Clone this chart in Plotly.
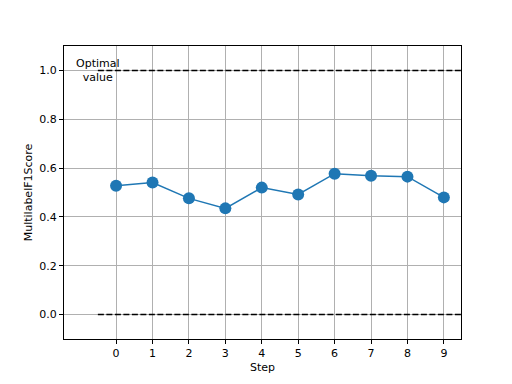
import plotly.graph_objects as go

steps = [0, 1, 2, 3, 4, 5, 6, 7, 8, 9]
scores = [0.528, 0.541, 0.476, 0.435, 0.520, 0.492, 0.577, 0.569, 0.565, 0.480]
optimal_value = 1.0
lower_value = 0.0
line_x = [-0.5, 9.5]
y_ticks = [0.0, 0.2, 0.4, 0.6, 0.8, 1.0]

fig = go.Figure()
fig.add_trace(go.Scatter(x=line_x, y=[optimal_value, optimal_value], mode="lines",
                         line=dict(color="black", width=1.5, dash="6px,2.5px"), showlegend=False))
fig.add_trace(go.Scatter(x=line_x, y=[lower_value, lower_value], mode="lines",
                         line=dict(color="black", width=1.5, dash="6px,2.5px"), showlegend=False))
fig.add_trace(go.Scatter(x=steps, y=scores, mode="lines+markers",
                         line=dict(color="#1f77b4", width=1.5),
                         marker=dict(color="#1f77b4", size=12), showlegend=False))

fig.add_annotation(x=-0.5, y=optimal_value, text="Optimal<br>value", showarrow=False,
                   font=dict(family="DejaVu Sans", size=11, color="black"),
                   xanchor="center", yanchor="middle", align="center")

axis_common = dict(showline=True, linecolor="black", linewidth=1, mirror=True,
                   ticks="outside", ticklen=4, tickcolor="black",
                   showgrid=True, gridcolor="#b0b0b0", gridwidth=1, zeroline=False,
                   tickfont=dict(family="DejaVu Sans", size=11, color="black"))

fig.update_layout(
    width=504, height=376,
    margin=dict(l=56, r=51, t=38, b=42),
    paper_bgcolor="white", plot_bgcolor="white",
    font=dict(family="DejaVu Sans", size=11, color="black"),
    xaxis=dict(range=[-1.43, 9.47], tickmode="array", tickvals=steps,
               title=dict(text="Step", standoff=4, font=dict(size=11)), **axis_common),
    yaxis=dict(range=[-0.1, 1.1], tickmode="array", tickvals=y_ticks,
               ticktext=[f"{v:.1f}" for v in y_ticks],
               title=dict(text="MultilabelF1Score", standoff=4, font=dict(size=11)), **axis_common),
)

fig.write_html("out.html")
